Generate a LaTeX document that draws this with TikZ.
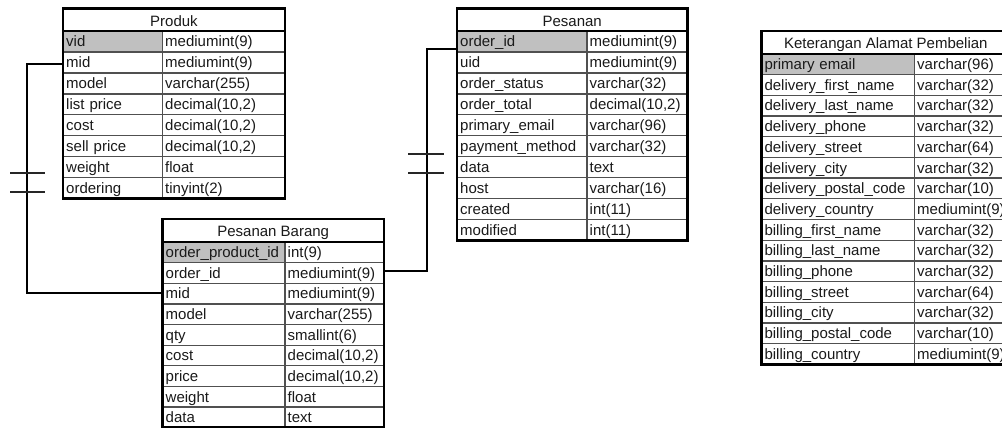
\documentclass[tikz,border=0pt]{standalone}
\usepackage{fontspec}
\setmainfont{Liberation Sans}
\usetikzlibrary{calc}

\definecolor{keygray}{HTML}{C0C0C0}
\definecolor{gridgray}{HTML}{505050}
\definecolor{ink}{HTML}{1A1A1A}

\tikzset{
  cell/.style={anchor=north west, inner xsep=3pt, inner ysep=0pt,
    text height=12pt, text depth=1pt, align=left, fill=white,
    font=\fontsize{15}{18}\selectfont, text=ink},
  titlecell/.style={anchor=north west, inner sep=0pt, minimum height=22.5pt,
    text height=13pt, text depth=0pt, align=center,
    font=\fontsize{15}{18}\selectfont, text=ink},
  rowline/.style={draw=gridgray, line width=1.3pt},
  titlerule/.style={draw=black, line width=2pt},
  frame/.style={draw=black, line width=2.6pt},
  link/.style={draw=black, line width=1.8pt},
  onemark/.style={draw=black!85, line width=1.8pt},
}

% #1 name, #2 title, #3 left x, #4 top y, #5 column divider x,
% #6 right x, #7 row height, #8 rows as field/type pairs
\newcommand\dbtable[8]{%
  \pgfmathsetmacro\kw{#5-(#3)-6}%
  \pgfmathsetmacro\tw{#6-(#5)-6}%
  \pgfmathsetmacro\fw{#6-(#3)}%
  \node[titlecell, minimum width=\fw pt] (#1-title) at (#3,#4) {#2};
  \foreach \k/\t [count=\i] in {#8} {%
    \pgfmathsetmacro\ry{#4+22.5+(\i-1)*#7}%
    \ifnum\i=1 \def\kfill{keygray}\else\def\kfill{white}\fi
    \node[cell, fill=\kfill, text width=\kw pt, minimum height=#7pt]
      (#1-\i-k) at (#3,\ry) {\k};
    \node[cell, text width=\tw pt, minimum height=#7pt]
      (#1-\i-t) at (#5,\ry) {\t};
    \xdef\lastrow{\i}%
  }
  \foreach \i in {1,...,\lastrow} {%
    \draw[rowline] (#1-\i-k.south west) -- (#1-\i-t.south east);
  }
  \draw[rowline] (#1-1-k.north east) -- (#1-\lastrow-k.south east);
  \draw[titlerule] (#1-title.south west) -- (#1-title.south east);
  \draw[frame] (#1-title.north west) rectangle (#1-\lastrow-t.south east);
}

\begin{document}
\begin{tikzpicture}[x=1pt, y=-1pt]
  \useasboundingbox (0,0) rectangle (1002,428);
  \fill[white] (0,0) rectangle (1002,428);
  \clip (0,0) rectangle (1002,428);

  \dbtable{pk}{Produk}{63}{8.3}{162}{284.5}{20.9}{%
    vid/mediumint(9), mid/mediumint(9), model/varchar(255),
    list price/{decimal(10,2)}, cost/{decimal(10,2)},
    sell price/{decimal(10,2)}, weight/float, ordering/tinyint(2)}

  \dbtable{pes}{Pesanan}{457}{8.3}{586.5}{687}{20.9}{%
    order\_id/mediumint(9), uid/mediumint(9), order\_status/varchar(32),
    order\_total/{decimal(10,2)}, primary\_email/varchar(96),
    payment\_method/varchar(32), data/text, host/varchar(16),
    created/int(11), modified/int(11)}

  \dbtable{pb}{Pesanan Barang}{162.5}{219}{284.5}{383.5}{20.65}{%
    order\_product\_id/int(9), order\_id/mediumint(9), mid/mediumint(9),
    model/varchar(255), qty/smallint(6), cost/{decimal(10,2)},
    price/{decimal(10,2)}, weight/float, data/text}

  \dbtable{ket}{Keterangan Alamat Pembelian}{761.3}{31}{914}{1010}{20.7}{%
    primary email/varchar(96), delivery\_first\_name/varchar(32),
    delivery\_last\_name/varchar(32), delivery\_phone/varchar(32),
    delivery\_street/varchar(64), delivery\_city/varchar(32),
    delivery\_postal\_code/varchar(10), delivery\_country/mediumint(9),
    billing\_first\_name/varchar(32), billing\_last\_name/varchar(32),
    billing\_phone/varchar(32), billing\_street/varchar(64),
    billing\_city/varchar(32), billing\_postal\_code/varchar(10),
    billing\_country/mediumint(9)}

  % Produk.mid -- Pesanan Barang.mid
  \coordinate (railA) at (27,0);
  \coordinate (pkMidEnd) at ([yshift=-2pt]pk-2-k.west);
  \draw[link] (pkMidEnd) -| (railA |- pb-3-k.west) -- (pb-3-k.west);
  \coordinate (markA1) at (27,173.3);
  \coordinate (markA2) at (27,192);
  \draw[onemark] ([xshift=-17pt]markA1) -- ([xshift=18pt]markA1);
  \draw[onemark] ([xshift=-17pt]markA2) -- ([xshift=18pt]markA2);

  % Pesanan.order_id -- Pesanan Barang.order_id
  \coordinate (railB) at (427.3,0);
  \coordinate (pesOrderEnd) at ([yshift=-7.5pt]pes-1-k.west);
  \coordinate (pbOrderEnd) at ([yshift=2pt]pb-2-t.east);
  \draw[link] (pesOrderEnd) -| (railB |- pbOrderEnd) -- (pbOrderEnd);
  \coordinate (markB1) at (427.3,154.3);
  \coordinate (markB2) at (427.3,173.3);
  \draw[onemark] ([xshift=-19pt]markB1) -- ([xshift=17pt]markB1);
  \draw[onemark] ([xshift=-19pt]markB2) -- ([xshift=17pt]markB2);
\end{tikzpicture}
\end{document}
